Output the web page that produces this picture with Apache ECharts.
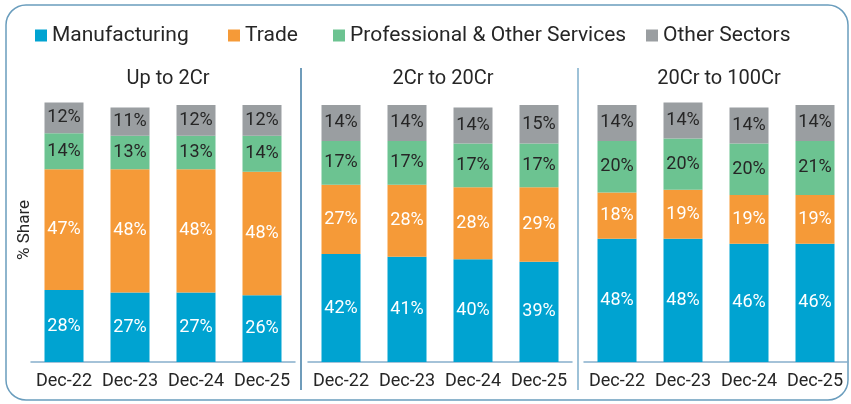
<!DOCTYPE html>
<html>
<head>
<meta charset="utf-8">
<script src="https://cdn.jsdelivr.net/npm/echarts@6/dist/echarts.min.js"></script>
<style>html,body{margin:0;padding:0;background:#fff}#c{width:851px;height:404px}</style>
</head>
<body>
<div id="c"></div>
<script>
const categories = ['Dec-22', 'Dec-23', 'Dec-24', 'Dec-25'];
const panels = ['Up to 2Cr', '2Cr to 20Cr', '20Cr to 100Cr'];
const seriesNames = ['Manufacturing', 'Trade', 'Professional & Other Services', 'Other Sectors'];
// values per panel (percent share)
const upTo2Cr = {
  manufacturing: [28, 27, 27, 26],
  trade: [47, 48, 48, 48],
  professional: [14, 13, 13, 14],
  other: [12, 11, 12, 12]
};
const cr2to20 = {
  manufacturing: [42, 41, 40, 39],
  trade: [27, 28, 28, 29],
  professional: [17, 17, 17, 17],
  other: [14, 14, 14, 15]
};
const cr20to100 = {
  manufacturing: [48, 48, 46, 46],
  trade: [18, 19, 19, 19],
  professional: [20, 20, 20, 21],
  other: [14, 14, 14, 14]
};

const panelData = [upTo2Cr, cr2to20, cr20to100];
const keys = ['manufacturing', 'trade', 'professional', 'other'];
const colors = ['#00A3D1', '#F59A38', '#6CC391', '#9A9EA1'];
const labelColors = ['#ffffff', '#ffffff', '#262626', '#262626'];
const FONT = 'Roboto';

const gridLefts = [31, 308, 584];
const gridWidth = 264;

const grids = gridLefts.map(l => ({ left: l, width: gridWidth, top: 105, bottom: 42, containLabel: false }));
const xAxes = gridLefts.map((l, i) => ({
  type: 'category', gridIndex: i, data: categories,
  axisLine: { show: true, lineStyle: { color: '#86aecb', width: 1.5 } },
  axisTick: { show: false },
  axisLabel: { interval: 0, color: '#262626', fontSize: 18, fontFamily: FONT, margin: 10 }
}));
const yAxes = gridLefts.map((l, i) => ({
  type: 'value', gridIndex: i, min: 0, max: 100,
  show: false, splitLine: { show: false }
}));

const series = [];
panelData.forEach((pd, gi) => {
  keys.forEach((k, si) => {
    series.push({
      type: 'bar', name: seriesNames[si], stack: 'p' + gi,
      xAxisIndex: gi, yAxisIndex: gi,
      data: pd[k], barWidth: 39, clip: false,
      itemStyle: { color: colors[si] },
      label: { show: true, position: 'inside', formatter: '{c}%', color: labelColors[si], fontSize: 18, fontFamily: FONT }
    });
  });
});

const legendLefts = [35, 228, 333, 646];
const legends = seriesNames.map((n, i) => ({
  data: [n], left: legendLefts[i], top: 25, padding: 0,
  itemWidth: 12, itemHeight: 12, itemGap: 0, icon: 'rect',
  textStyle: { color: '#262626', fontSize: 21, fontFamily: FONT },
  selectedMode: false
}));

const titleCenters = [163, 438, 714];
const titles = panels.map((p, i) => ({
  text: p, left: titleCenters[i], top: 64, textAlign: 'center',
  textStyle: { color: '#262626', fontSize: 20, fontWeight: 'normal', fontFamily: FONT }
}));

const chart = echarts.init(document.getElementById('c'), null, { renderer: 'canvas' });
chart.setOption({
  animation: false,
  color: colors,
  title: titles,
  legend: legends,
  grid: grids,
  xAxis: xAxes,
  yAxis: yAxes,
  series: series,
  graphic: [
    { type: 'rect', shape: { x: 6, y: 5, width: 842, height: 395, r: 20 },
      style: { fill: 'none', stroke: '#6a9dbd', lineWidth: 1.5 }, silent: true, z: 0 },
    { type: 'line', shape: { x1: 301, y1: 68, x2: 301, y2: 390 },
      style: { stroke: '#3f7ba3', lineWidth: 1.5 }, silent: true },
    { type: 'line', shape: { x1: 578, y1: 68, x2: 578, y2: 390 },
      style: { stroke: '#7eaecb', lineWidth: 1.5 }, silent: true },
    { type: 'text', x: 25, y: 230, rotation: Math.PI / 2, style: {
        text: '% Share', fill: '#262626', font: '17px Roboto', align: 'center', verticalAlign: 'middle' }, silent: true }
  ]
});
</script>
</body>
</html>
